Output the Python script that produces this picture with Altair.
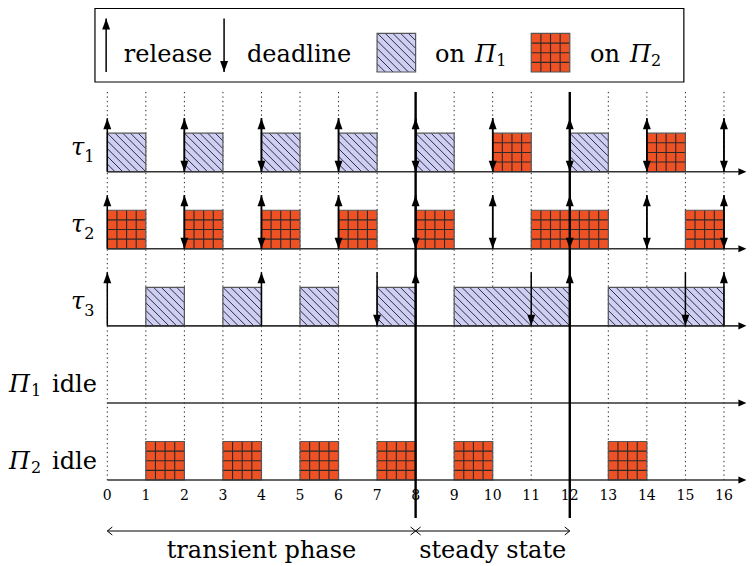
import math
import altair as alt
import pandas as pd

# ---------------- data ----------------
ticks = list(range(17))
row_sym = ["τ", "τ", "τ", "Π", "Π"]
row_sub = ["1", "2", "3", "1", "2"]
row_tail = ["", "", "", "idle", "idle"]

# jobs: row index, start, end, processor (1 = hatched, 2 = grid)
job_row = [0, 0, 0, 0, 0, 0, 0, 0, 1, 1, 1, 1, 1, 1, 1, 2, 2, 2, 2, 2, 2, 4, 4, 4, 4, 4, 4]
job_start = [0, 2, 4, 6, 8, 10, 12, 14, 0, 2, 4, 6, 8, 11, 15, 1, 3, 5, 7, 9, 13, 1, 3, 5, 7, 9, 13]
job_end = [1, 3, 5, 7, 9, 11, 13, 15, 1, 3, 5, 7, 9, 13, 16, 2, 4, 6, 8, 12, 16, 2, 4, 6, 8, 10, 14]
job_proc = [1, 1, 1, 1, 1, 2, 1, 2, 2, 2, 2, 2, 2, 2, 2, 1, 1, 1, 1, 1, 1, 2, 2, 2, 2, 2, 2]

rel_row = [0] * 9 + [1] * 9 + [2] * 5
rel_time = [0, 2, 4, 6, 8, 10, 12, 14, 16, 0, 2, 4, 6, 8, 10, 12, 14, 16, 0, 4, 8, 12, 16]
dl_row = [0] * 8 + [1] * 8 + [2] * 3
dl_time = [2, 4, 6, 8, 10, 12, 14, 16, 2, 4, 6, 8, 10, 12, 14, 16, 7, 11, 15]

phase_label = ["transient phase", "steady state"]
phase_start = [0, 8]
phase_end = [8, 12]

legend_words = ["release", "deadline", "on", "on"]
proc_sym = ["Π", "Π"]
proc_sub = ["1", "2"]

# ---------------- layout / style ----------------
FONT = "DejaVu Serif"
P1_FILL = "#CFCFF3"
P2_FILL = "#EE5124"
ROW_GAP = 2.0
ARROW_H = 1.39
W, H = 739, 558
UNIT = 38.54
X_MIN = -2.5765
Y_MAX = 4.2475
xs = alt.Scale(domain=[X_MIN, X_MIN + W / UNIT], nice=False, zero=False)
ys = alt.Scale(domain=[Y_MAX - H / UNIT, Y_MAX], nice=False, zero=False)


def ex(f):
    return alt.X(f"{f}:Q", scale=xs, axis=None)


def ey(f):
    return alt.Y(f"{f}:Q", scale=ys, axis=None)


def base(r):
    return -ROW_GAP * r


# boxes (tasks + legend swatches)
LEG_Y0, LEG_Y1 = 2.587, 3.587
boxes = pd.DataFrame({
    "x0": [float(s) for s in job_start] + [7.0, 11.0],
    "x1": [float(e) for e in job_end] + [8.0, 12.0],
    "y0": [base(r) for r in job_row] + [LEG_Y0, LEG_Y0],
    "y1": [base(r) + 1 for r in job_row] + [LEG_Y1, LEG_Y1],
    "proc": [str(p) for p in job_proc] + ["1", "2"],
})

# hatch lines for processor 1, grid lines for processor 2
segs = []
D = 0.2
for _, b in boxes.iterrows():
    x0, x1, y0, y1 = b.x0, b.x1, b.y0, b.y1
    if b.proc == "1":
        k0 = math.ceil((x0 + y0) / D + 1e-9)
        k1 = math.floor((x1 + y1) / D - 1e-9)
        for k in range(k0, k1 + 1):
            c = k * D
            xa = max(x0, c - y1)
            xb = min(x1, c - y0)
            if xb - xa > 1e-6:
                segs.append({"a": xa, "b": c - xa, "c": xb, "d": c - xb, "kind": "h"})
    else:
        n = int(round((x1 - x0) / 0.25))
        for k in range(1, n):
            xx = x0 + 0.25 * k
            segs.append({"a": xx, "b": y0, "c": xx, "d": y1, "kind": "g"})
        for k in range(1, 4):
            yy = y0 + 0.25 * k
            segs.append({"a": x0, "b": yy, "c": x1, "d": yy, "kind": "g"})
segs = pd.DataFrame(segs)

TIP = X_MIN + (W - 0.6) / UNIT
grid_df = pd.DataFrame({"t": [float(t) for t in ticks], "ya": 2.07, "yb": base(4)})
axis_df = pd.DataFrame({"r": list(range(5))})
axis_df["y"] = axis_df.r.map(base)
axis_df["x0"] = 0.0
axis_df["x1"] = TIP - 0.2
axis_df["tip"] = TIP

up_df = pd.DataFrame({
    "t": [float(t) for t in rel_time] + [-0.03],
    "y0": [base(r) for r in rel_row] + [LEG_Y0],
    "y1": [base(r) + ARROW_H for r in rel_row] + [LEG_Y0 + ARROW_H],
})
dn_df = pd.DataFrame({
    "t": [float(t) for t in dl_time] + [3.03],
    "y0": [base(r) + ARROW_H for r in dl_row] + [LEG_Y0 + ARROW_H],
    "y1": [base(r) for r in dl_row] + [LEG_Y0],
})

thick_df = pd.DataFrame({"t": [float(phase_end[0]), float(phase_end[1])], "ya": 2.07, "yb": -8.985})
tick_df = pd.DataFrame({"t": ticks, "y": -8.415, "label": [str(t) for t in ticks]})

PH_Y = -9.323
phase_df = pd.DataFrame({"x0": phase_start, "x1": phase_end, "y": PH_Y,
                         "mid": [(a + b) / 2 for a, b in zip(phase_start, phase_end)],
                         "ty": -10.02, "label": phase_label})

# row labels
sym_rows, sub_rows, tail_rows = [], [], []
for r in range(5):
    if row_tail[r]:
        sym_rows.append({"t": -2.551, "y": base(r) + 0.285, "label": row_sym[r]})
        sub_rows.append({"t": -1.98, "y": base(r) + 0.18, "label": row_sub[r]})
        tail_rows.append({"t": -1.435, "y": base(r) + 0.285, "label": row_tail[r]})
    else:
        sym_rows.append({"t": -0.942, "y": base(r) + 0.43, "label": row_sym[r]})
        sub_rows.append({"t": -0.60, "y": base(r) + 0.26, "label": row_sub[r]})

LEG_TY = 2.846
LEG_SY = 2.743
sym_rows += [{"t": 9.54, "y": LEG_TY, "label": proc_sym[0]},
             {"t": 13.56, "y": LEG_TY, "label": proc_sym[1]}]
sub_rows += [{"t": 10.09, "y": LEG_SY, "label": proc_sub[0]},
             {"t": 14.11, "y": LEG_SY, "label": proc_sub[1]}]
tail_rows += [{"t": tt, "y": LEG_TY, "label": w}
              for tt, w in zip([0.43, 3.625, 8.503, 12.525], legend_words)]
sym_df = pd.DataFrame(sym_rows)
sub_df = pd.DataFrame(sub_rows)
tail_df = pd.DataFrame(tail_rows)

legbox_df = pd.DataFrame({"x0": [-0.32], "x1": [14.96], "y0": [2.327], "y1": [4.235]})

UP = "M0 0 L0.36 1 L-0.36 1 Z"
DN = "M0 0 L0.36 -1 L-0.36 -1 Z"
RT = "M0 0 L-1 0.44 L-1 -0.44 Z"
CH_R = "M-1 -0.8 L0 0 L-1 0.8"
CH_L = "M1 -0.8 L0 0 L1 0.8"

layers = []
# legend frame
layers.append(alt.Chart(legbox_df).mark_rect(fillOpacity=0, stroke="black", strokeWidth=1.2).encode(
    x=ex("x0"), x2="x1", y=ey("y0"), y2="y1"))
# dotted grid
layers.append(alt.Chart(grid_df).mark_rule(color="#222", strokeWidth=1, strokeDash=[1.3, 3.2]).encode(
    x=ex("t"), y=ey("ya"), y2="yb"))
# boxes
layers.append(alt.Chart(boxes).mark_rect(strokeWidth=0).encode(
    x=ex("x0"), x2="x1", y=ey("y0"), y2="y1",
    fill=alt.Fill("proc:N", scale=alt.Scale(domain=["1", "2"], range=[P1_FILL, P2_FILL]), legend=None)))
layers.append(alt.Chart(segs[segs.kind == "h"]).mark_rule(color="#1a1a2a", strokeWidth=0.9).encode(
    x=ex("a"), y=ey("b"), x2="c", y2="d"))
layers.append(alt.Chart(segs[segs.kind == "g"]).mark_rule(color="#2a2a2a", strokeWidth=1.1).encode(
    x=ex("a"), y=ey("b"), x2="c", y2="d"))
layers.append(alt.Chart(boxes).mark_rect(fillOpacity=0, stroke="#555", strokeWidth=1.2).encode(
    x=ex("x0"), x2="x1", y=ey("y0"), y2="y1"))
# row axes
layers.append(alt.Chart(axis_df).mark_rule(color="#333", strokeWidth=1.6).encode(
    x=ex("x0"), x2="x1", y=ey("y")))
layers.append(alt.Chart(axis_df).mark_point(shape=RT, filled=True, size=256, color="black",
                                            opacity=1, strokeWidth=0).encode(x=ex("tip"), y=ey("y")))
# release / deadline arrows
for df, shp in [(up_df, UP), (dn_df, DN)]:
    layers.append(alt.Chart(df).mark_rule(color="black", strokeWidth=1.5).encode(
        x=ex("t"), y=ey("y0"), y2="y1"))
    layers.append(alt.Chart(df).mark_point(shape=shp, filled=True, size=484, color="black",
                                           opacity=1, strokeWidth=0).encode(x=ex("t"), y=ey("y1")))
# thick phase boundaries
layers.append(alt.Chart(thick_df).mark_rule(color="black", strokeWidth=2.4).encode(
    x=ex("t"), y=ey("ya"), y2="yb"))
# tick labels
layers.append(alt.Chart(tick_df).mark_text(font=FONT, fontSize=14, baseline="middle", align="center",
                                           color="black").encode(x=ex("t"), y=ey("y"), text="label:N"))
# phase arrows
layers.append(alt.Chart(phase_df).mark_rule(color="black", strokeWidth=1).encode(
    x=ex("x0"), x2="x1", y=ey("y")))
layers.append(alt.Chart(phase_df).mark_point(shape=CH_L, filled=False, size=100, color="black",
                                             opacity=1, strokeWidth=1).encode(x=ex("x0"), y=ey("y")))
layers.append(alt.Chart(phase_df).mark_point(shape=CH_R, filled=False, size=100, color="black",
                                             opacity=1, strokeWidth=1).encode(x=ex("x1"), y=ey("y")))
layers.append(alt.Chart(phase_df).mark_text(font=FONT, fontSize=24, align="center", baseline="alphabetic",
                                            color="black").encode(x=ex("mid"), y=ey("ty"), text="label:N"))
# labels
layers.append(alt.Chart(sym_df).mark_text(font=FONT, fontSize=24, fontStyle="italic", align="left",
                                          baseline="alphabetic", color="black").encode(
    x=ex("t"), y=ey("y"), text="label:N"))
layers.append(alt.Chart(sub_df).mark_text(font=FONT, fontSize=16, align="left",
                                          baseline="alphabetic", color="black").encode(
    x=ex("t"), y=ey("y"), text="label:N"))
layers.append(alt.Chart(tail_df).mark_text(font=FONT, fontSize=24, align="left",
                                           baseline="alphabetic", color="black").encode(
    x=ex("t"), y=ey("y"), text="label:N"))

chart = alt.layer(*layers).properties(
    width=W, height=H, padding=0, autosize=alt.AutoSizeParams(type="none")
).configure_view(stroke=None)

chart.save("out.html", embed_options={"renderer": "svg", "actions": False})
